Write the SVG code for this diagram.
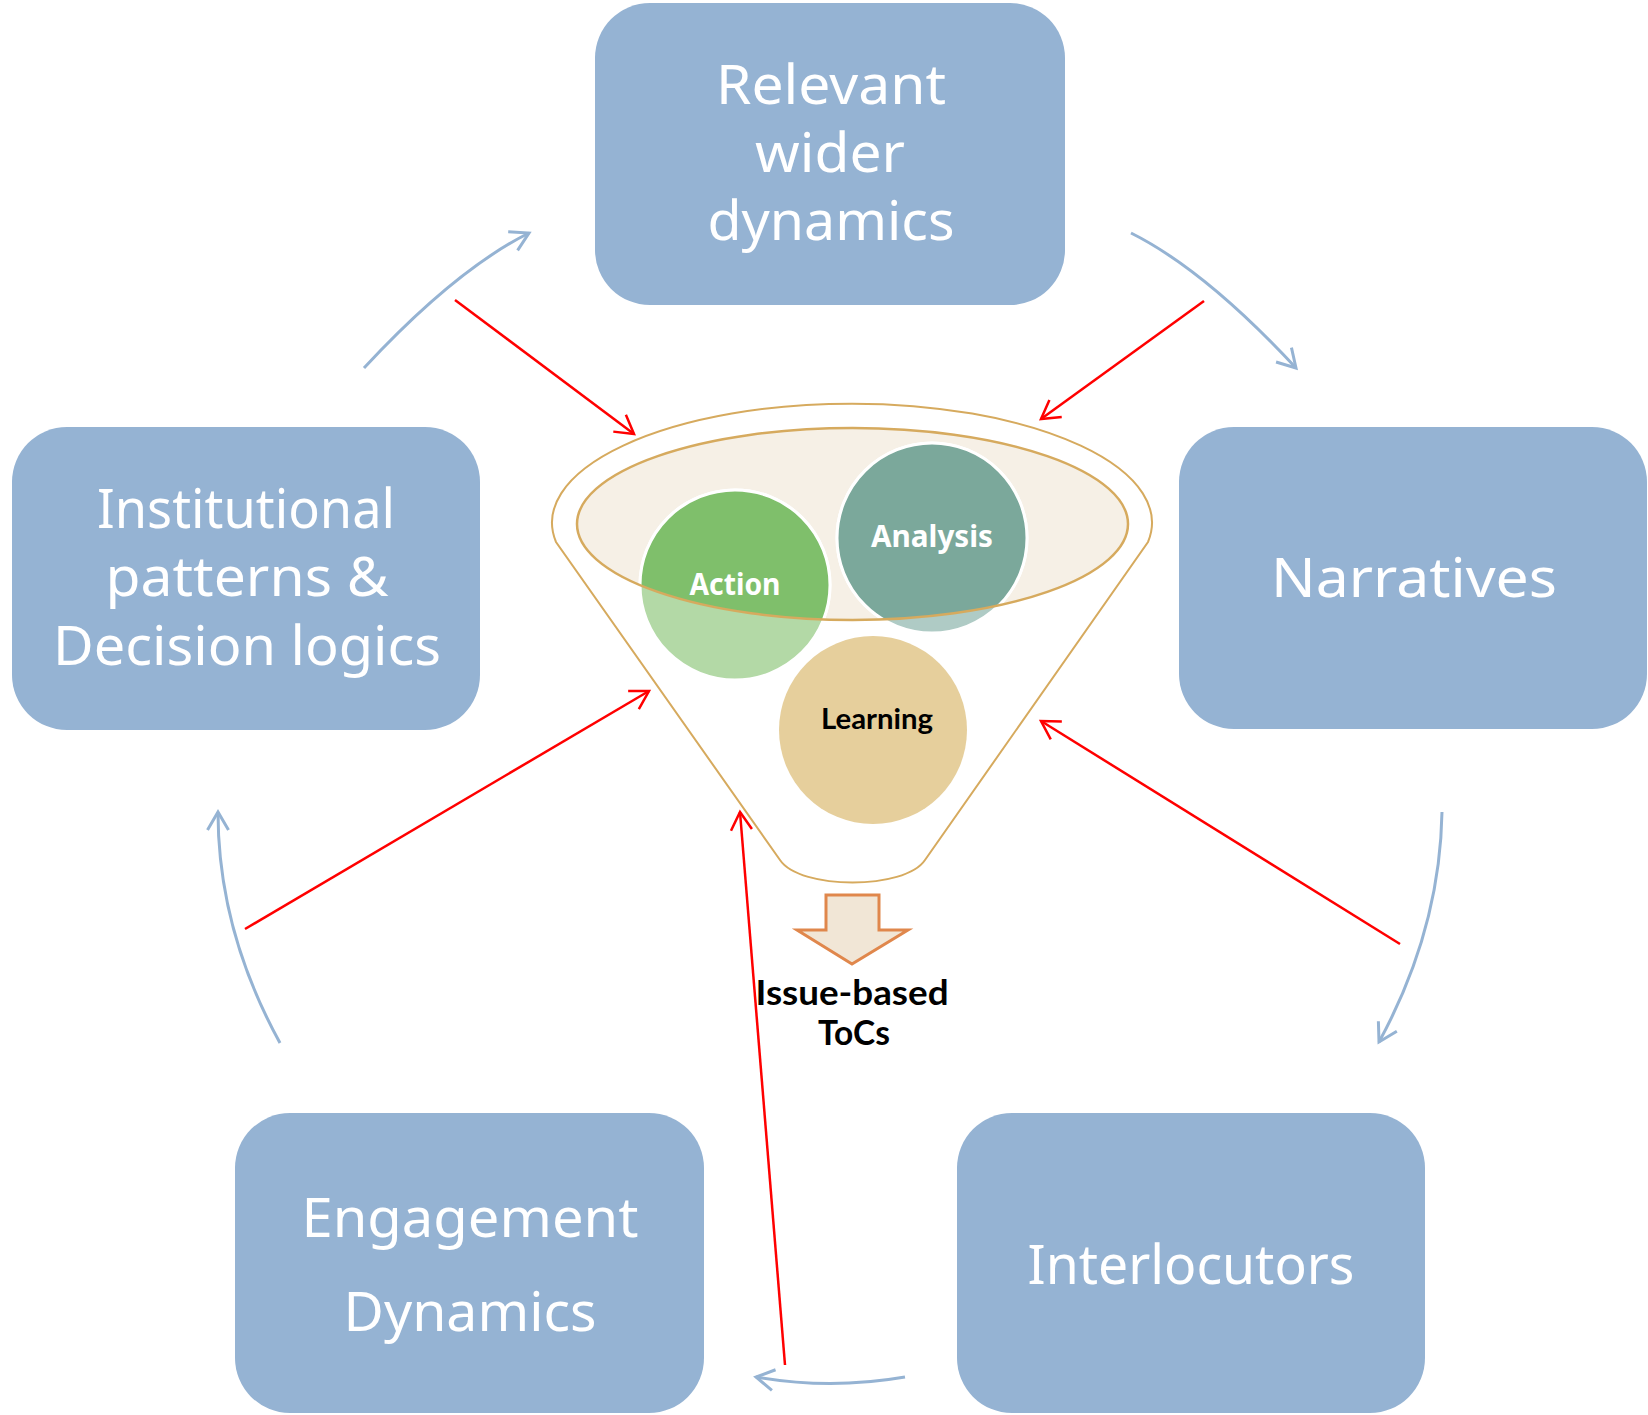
<svg xmlns="http://www.w3.org/2000/svg" width="1648" height="1415" viewBox="0 0 1648 1415">
  <style>
    text { font-variant-ligatures: none; font-feature-settings: "liga" 0, "clig" 0, "dlig" 0; }
    .box { fill: #95B3D3; }
    .boxlabel { font-family: "Noto Sans", "Open Sans", "Liberation Sans", sans-serif; font-size: 55px; fill: #FFFFFF; text-anchor: middle; }
    .circlabel { font-family: "Noto Sans", "Liberation Sans", sans-serif; font-weight: 700; font-size: 30px; text-anchor: middle; }
    .outlabel { font-family: Lato, "Liberation Sans", sans-serif; font-weight: 700; font-size: 35px; fill: #000000; text-anchor: middle; }
    .cycle { fill: none; stroke: #95B3D3; stroke-width: 3; marker-end: url(#headBlue); }
    .feed { fill: none; stroke: #FF0000; stroke-width: 2.5; marker-end: url(#headRed); }
    .gold { fill: none; stroke: #D6AA5E; }
  </style>
  <defs>
    <marker id="headBlue" markerUnits="userSpaceOnUse" markerWidth="40" markerHeight="40" refX="0" refY="0" orient="auto" overflow="visible">
      <path d="M-18,-10.5 L0,0 L-18,10.5" fill="none" stroke="#95B3D3" stroke-width="3" stroke-linejoin="miter"/>
    </marker>
    <marker id="headRed" markerUnits="userSpaceOnUse" markerWidth="40" markerHeight="40" refX="0" refY="0" orient="auto" overflow="visible">
      <path d="M-18,-10.5 L0,0 L-18,10.5" fill="none" stroke="#FF0000" stroke-width="2.5" stroke-linejoin="miter"/>
    </marker>
    <clipPath id="funnelMouth">
      <ellipse cx="852.5" cy="524" rx="275.5" ry="96"/>
    </clipPath>
  </defs>

  <rect width="1648" height="1415" fill="#FFFFFF"/>

  <!-- outer boxes -->
  <g id="node-relevant">
    <rect class="box" x="595" y="3" width="470" height="302" rx="55" ry="55"/>
    <text class="boxlabel" x="831" y="104" textLength="230" lengthAdjust="spacingAndGlyphs">Relevant</text>
    <text class="boxlabel" x="830" y="172" textLength="150" lengthAdjust="spacingAndGlyphs">wider</text>
    <text class="boxlabel" x="831" y="240" textLength="247" lengthAdjust="spacingAndGlyphs">dynamics</text>
  </g>

  <g id="node-institutional">
    <rect class="box" x="12" y="427" width="468" height="303" rx="55" ry="55"/>
    <text class="boxlabel" x="246" y="528" textLength="298" lengthAdjust="spacingAndGlyphs">Institutional</text>
    <text class="boxlabel" x="247" y="596" textLength="283" lengthAdjust="spacingAndGlyphs">patterns &amp;</text>
    <text class="boxlabel" x="247" y="665" textLength="388" lengthAdjust="spacingAndGlyphs">Decision logics</text>
  </g>

  <g id="node-narratives">
    <rect class="box" x="1179" y="427" width="468" height="302" rx="55" ry="55"/>
    <text class="boxlabel" x="1414" y="597" textLength="286" lengthAdjust="spacingAndGlyphs">Narratives</text>
  </g>

  <g id="node-engagement">
    <rect class="box" x="235" y="1113" width="469" height="300" rx="55" ry="55"/>
    <text class="boxlabel" x="470" y="1237" textLength="337" lengthAdjust="spacingAndGlyphs">Engagement</text>
    <text class="boxlabel" x="470" y="1331" textLength="253" lengthAdjust="spacingAndGlyphs">Dynamics</text>
  </g>

  <g id="node-interlocutors">
    <rect class="box" x="957" y="1113" width="468" height="300" rx="55" ry="55"/>
    <text class="boxlabel" x="1191" y="1284" textLength="327" lengthAdjust="spacingAndGlyphs">Interlocutors</text>
  </g>

  <!-- central funnel -->
  <g id="node-funnel">
    <path class="gold" stroke-width="2" d="M556,542 A300,119 0 1,1 1148,542 L925,860 C905,890 800,890 780,860 Z"/>
    <ellipse cx="852.5" cy="524" rx="275.5" ry="96" fill="#F6F0E6"/>
  </g>

  <g id="node-action">
    <circle cx="735" cy="585" r="95" fill="#B3D9A6" stroke="#FFFFFF" stroke-width="3"/>
    <circle cx="735" cy="585" r="95" fill="#7FBF6B" stroke="#FFFFFF" stroke-width="3" clip-path="url(#funnelMouth)"/>
    <text class="circlabel" x="735" y="595" fill="#FFFFFF" textLength="91" lengthAdjust="spacingAndGlyphs">Action</text>
  </g>

  <g id="node-analysis">
    <circle cx="932" cy="538" r="95" fill="#AFCBC5" stroke="#FFFFFF" stroke-width="3"/>
    <circle cx="932" cy="538" r="95" fill="#7BA89B" stroke="#FFFFFF" stroke-width="3" clip-path="url(#funnelMouth)"/>
    <text class="circlabel" x="932" y="547" fill="#FFFFFF" textLength="122" lengthAdjust="spacingAndGlyphs">Analysis</text>
  </g>

  <g id="node-learning">
    <circle cx="873" cy="730" r="94" fill="#E6CF9C"/>
    <text x="877" y="729" fill="#000000" font-family="Lato, 'Liberation Sans', sans-serif" font-weight="700" font-size="28" text-anchor="middle" textLength="112" lengthAdjust="spacingAndGlyphs">Learning</text>
  </g>

  <!-- rim of the funnel mouth, drawn over the circles -->
  <g id="node-funnel-rim">
    <ellipse class="gold" cx="852.5" cy="524" rx="275.5" ry="96" stroke-width="2.5"/>
  </g>

  <!-- connectors -->
  <g id="connectors">
    <!-- cycle between the outer boxes -->
    <path class="cycle" d="M364,368 Q455,270 529,233"/>
    <path class="cycle" d="M1131,233 Q1205,270 1296,368"/>
    <path class="cycle" d="M1442,812 Q1440,930 1379,1042"/>
    <path class="cycle" d="M905,1377 Q830,1390 756,1377"/>
    <path class="cycle" d="M280,1043 Q218,930 218,812"/>
    <!-- inputs into the funnel -->
    <path class="feed" d="M455,300 L634,434"/>
    <path class="feed" d="M1204,301 L1041,419"/>
    <path class="feed" d="M245,929 L649,691"/>
    <path class="feed" d="M1400,944 L1041,721"/>
    <path class="feed" d="M785,1365 L740,812"/>
  </g>

  <!-- funnel output -->
  <g id="node-output">
    <path d="M826,895 L879,895 L879,930 L908,930 L852,964 L797,930 L826,930 Z" fill="#F1E6D6" stroke="#E0874C" stroke-width="3" stroke-linejoin="miter"/>
    <text class="outlabel" x="852" y="1005" textLength="193" lengthAdjust="spacingAndGlyphs">Issue-based</text>
    <text class="outlabel" x="854" y="1045" textLength="72" lengthAdjust="spacingAndGlyphs">ToCs</text>
  </g>
</svg>
